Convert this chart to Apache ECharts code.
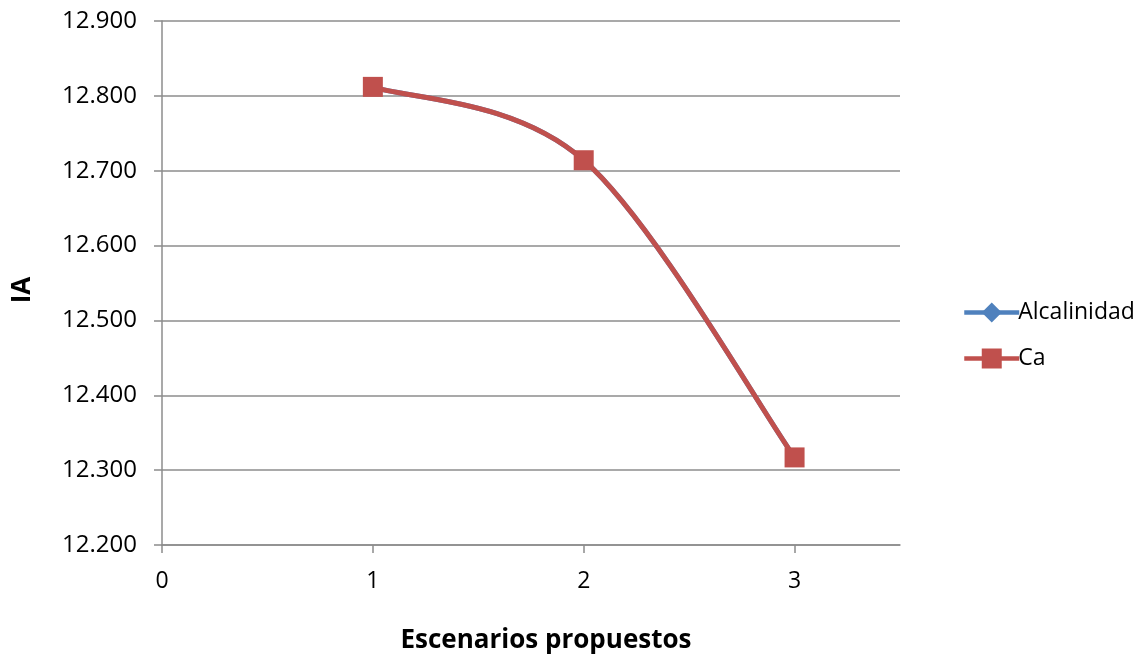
<!DOCTYPE html>
<html>
<head>
<meta charset="utf-8">
<script src="https://cdn.jsdelivr.net/npm/echarts@6/dist/echarts.min.js"></script>
<style>
  html, body { margin: 0; padding: 0; background: #fff; }
  #chart { width: 1144px; height: 658px; }
</style>
</head>
<body>
<div id="chart"></div>
<script>
// Escenarios propuestos (x) and the index IA for each series
const escenarios = [1, 2, 3];
const alcalinidad = [12.812, 12.714, 12.317];
const calcio = [12.812, 12.714, 12.317];
const xTicks = [0, 1, 2, 3];
const seriesNames = ['Alcalinidad', 'Ca'];
const colors = ['#4f81bd', '#c0504d'];

const FONT = 'Open Sans';
const LINE_W = 5;
const pairs = (xs, ys) => xs.map((x, i) => [x, ys[i]]);

// Smoothed curve (Catmull-Rom, tension 1/6) drawn segment by segment in pixel space
function curveSeries(name, xs, ys, color) {
  return {
    name: name + ' (curva)',
    type: 'custom',
    data: pairs(xs, ys),
    encode: { x: 0, y: 1 },
    silent: true,
    z: 2,
    renderItem: function (params, api) {
      const i = params.dataIndex;
      const n = xs.length;
      if (i >= n - 1) return null;
      const pt = k => api.coord([xs[Math.max(0, Math.min(n - 1, k))], ys[Math.max(0, Math.min(n - 1, k))]]);
      const p0 = pt(i - 1), p1 = pt(i), p2 = pt(i + 1), p3 = pt(i + 2);
      return {
        type: 'bezierCurve',
        shape: {
          x1: p1[0], y1: p1[1], x2: p2[0], y2: p2[1],
          cpx1: p1[0] + (p2[0] - p0[0]) / 6, cpy1: p1[1] + (p2[1] - p0[1]) / 6,
          cpx2: p2[0] - (p3[0] - p1[0]) / 6, cpy2: p2[1] - (p3[1] - p1[1]) / 6
        },
        style: { stroke: color, lineWidth: LINE_W, fill: null, lineCap: 'round' }
      };
    }
  };
}

// Markers and legend entries (their own line kept invisible; the curve draws it)
function markerSeries(name, xs, ys, color, symbol, size) {
  return {
    name: name,
    type: 'line',
    data: pairs(xs, ys),
    symbol: symbol,
    symbolSize: size,
    z: 3,
    color: color,
    lineStyle: { width: LINE_W, color: color, opacity: 0 },
    itemStyle: { color: color }
  };
}

const chart = echarts.init(document.getElementById('chart'), null, { renderer: 'canvas' });

chart.setOption({
  backgroundColor: '#ffffff',
  animation: false,
  textStyle: { fontFamily: FONT },
  grid: { left: 162, right: 244, top: 21, bottom: 113, containLabel: false },
  xAxis: {
    type: 'value',
    min: 0,
    max: 3.5,
    interval: 1,
    axisLine: { show: true, lineStyle: { color: '#8c8c8c', width: 1.5 } },
    axisTick: { show: true, length: 8, customValues: xTicks, lineStyle: { color: '#8c8c8c', width: 1.5 } },
    axisLabel: { customValues: xTicks, color: '#000', fontSize: 23, fontFamily: FONT, margin: 25 },
    splitLine: { show: false }
  },
  yAxis: {
    type: 'value',
    min: 12.2,
    max: 12.9,
    interval: 0.1,
    axisLine: { show: true, lineStyle: { color: '#8c8c8c', width: 1.5 } },
    axisTick: { show: true, length: 8, lineStyle: { color: '#8c8c8c', width: 1.5 } },
    axisLabel: {
      color: '#000', fontSize: 24, fontFamily: FONT, margin: 25,
      formatter: v => v.toFixed(3)
    },
    splitLine: { show: true, lineStyle: { color: '#8c8c8c', width: 1.5 } }
  },
  legend: {
    orient: 'vertical',
    left: 957,
    top: 296,
    itemWidth: 55,
    itemHeight: 25,
    itemGap: 23,
    data: seriesNames,
    lineStyle: { width: 4.5, opacity: 1 },
    textStyle: { color: '#000', fontSize: 23, fontFamily: FONT, padding: [0, 0, 0, -6] }
  },
  graphic: [
    {
      type: 'text',
      x: 546,
      y: 641,
      style: {
        text: 'Escenarios propuestos', font: 'bold 26px "Open Sans"', fill: '#000',
        textAlign: 'center', textVerticalAlign: 'middle'
      }
    },
    {
      type: 'text',
      x: 23,
      y: 290,
      rotation: Math.PI / 2,
      style: {
        text: 'IA', font: 'bold 26px "Open Sans"', fill: '#000',
        textAlign: 'center', textVerticalAlign: 'middle'
      }
    }
  ],
  series: [
    curveSeries(seriesNames[0], escenarios, alcalinidad, colors[0]),
    curveSeries(seriesNames[1], escenarios, calcio, colors[1]),
    markerSeries(seriesNames[0], escenarios, alcalinidad, colors[0], 'diamond', 16),
    markerSeries(seriesNames[1], escenarios, calcio, colors[1], 'rect', 20)
  ]
});
</script>
</body>
</html>
